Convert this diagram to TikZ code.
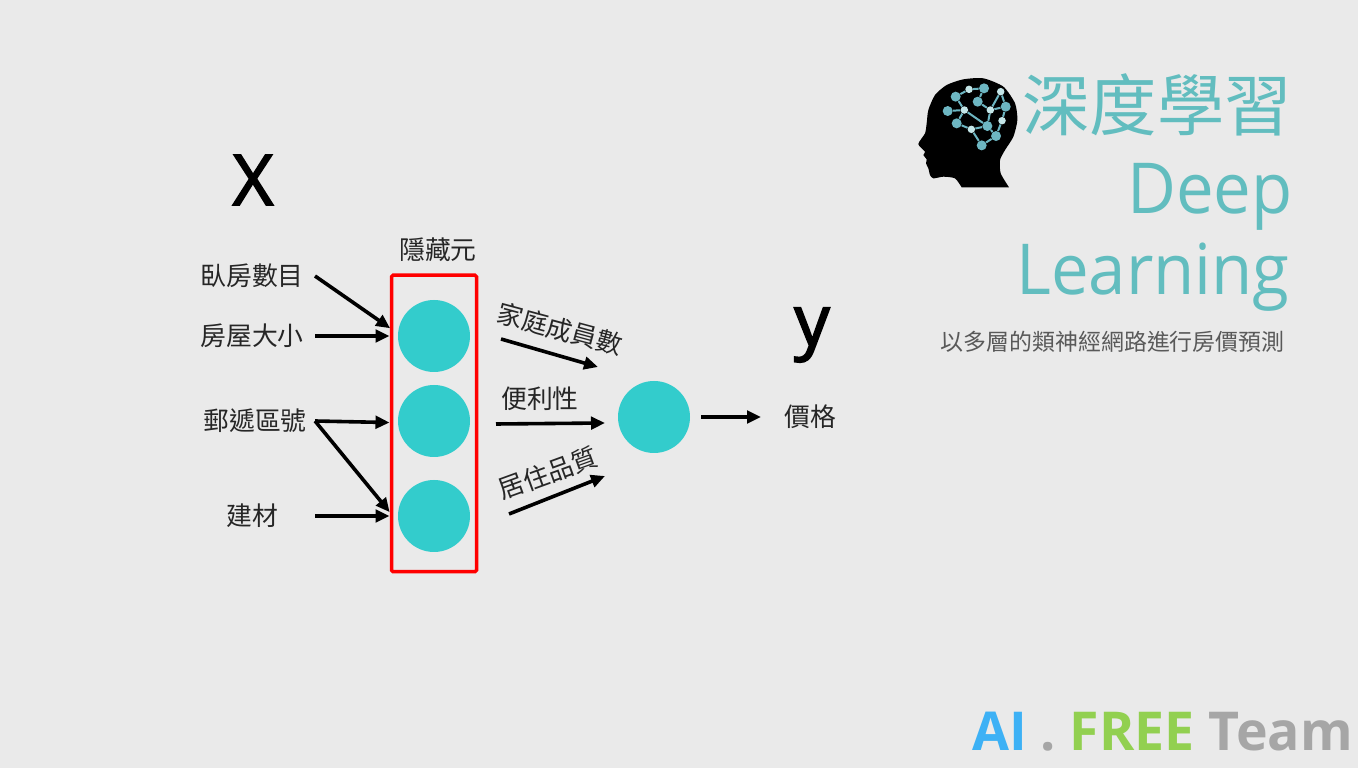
\documentclass[tikz,border=0pt]{standalone}
\usepackage{fontspec}
\setmainfont{Open Sans}
\newfontfamily\cjk{Noto Sans CJK TC}
\newfontfamily\varfont[FakeBold=2.5]{Open Sans}
\newfontfamily\titlefont[FakeStretch=0.955]{Open Sans}
\usetikzlibrary{arrows.meta, calc}
\definecolor{slidebg}{HTML}{EAEAEA}
\definecolor{neuron}{HTML}{33CCCC}
\definecolor{titleteal}{HTML}{62BDBF}
\definecolor{brainteal}{HTML}{6DB6C2}
\definecolor{brainlight}{HTML}{C4E6E8}
\definecolor{aiblue}{HTML}{3DB1F5}
\definecolor{freegreen}{HTML}{92D050}
\definecolor{teamgray}{HTML}{A6A6A6}

\begin{document}
\begin{tikzpicture}[
    x=0.2mm, y=-0.2mm,
    font=\fontsize{14.7}{16}\selectfont\cjk,
    feature/.style={anchor=east, align=center, inner sep=0pt, minimum width=25mm, minimum height=6mm, text=black!85},
    unit/.style={circle, fill=neuron, inner sep=0pt, minimum size=14.4mm, outer sep=1.7mm},
    cjktext/.style={inner sep=0pt, text=black!85},
    bigvar/.style={inner sep=0pt, font=\fontsize{40}{44}\selectfont\varfont},
    arr/.style={-{Triangle[length=2.8mm, width=2.5mm]}, line width=0.72mm, black},
    titletext/.style={anchor=base east, inner sep=0pt, text=titleteal, font=\fontsize{40}{44}\selectfont\titlefont},
    bigdot/.style={circle, fill=brainteal, inner sep=0pt, minimum size=2mm},
    smalldot/.style={circle, fill=brainlight, inner sep=0pt, minimum size=1.5mm},
    wire/.style={brainteal, line width=0.4mm}
]

\fill[slidebg] (0,0) rectangle (1358,768);
\useasboundingbox (0,0) rectangle (1358,768);

% --------------------------------------------------------------------------
% Input features
% --------------------------------------------------------------------------
\node[bigvar] (xvar) at (253,180) {X};
\node[feature] (bedroom) at (315,276) {臥房數目};
\node[feature] (house) at (315,336) {房屋大小};
\node[feature] (zipcode) at (315,421) {\hspace{1.2mm}郵遞區號};
\node[feature] (material) at (315,516) {建材};

% --------------------------------------------------------------------------
% Hidden units
% --------------------------------------------------------------------------
\node[unit] (hid1) at (434,336) {};
\node[unit] (hid2) at (434,421) {};
\node[unit] (hid3) at (434,516) {};
\node[draw=red, line width=0.7mm, rounded corners=0.3mm, inner sep=0pt, minimum width=17mm, minimum height=59.3mm] (hidbox) at (434,423.5) {};
\node[cjktext] (hidlabel) at (438,250) {隱藏元};

\draw[arr] (bedroom.east) -- (hid1.170);
\draw[arr] (house.east) -- (hid1.west);
\draw[arr] (zipcode.east) -- (hid2.182);
\draw[arr] (zipcode.east) -- (hid3.175);
\draw[arr] (material.east) -- (hid3.west);

% --------------------------------------------------------------------------
% Output
% --------------------------------------------------------------------------
\node[unit] (out) at (654,417) {};
\node[bigvar] (yvar) at (812,335) {y};
\node[cjktext, anchor=west, xshift=4.6mm] (price) at (761,417) {價格};
\coordinate (pricein) at (761,417);

\draw[arr] ($(hid1.east)+(22.5,3)$) -- ($(out.west)+(-11.5,-50)$);
\draw[arr] ($(hid2.east)+(17.5,3)$) -- ($(out.west)+(-4.5,6)$);
\draw[arr] ($(hid3.east)+(30.5,-2)$) -- ($(out.west)+(-4.5,59)$);
\draw[arr] ($(out.east)+(2.5,0)$) -- (pricein);

\node[cjktext, rotate=-15] (family) at (560,329) {家庭成員數};
\node[cjktext] (conv) at (540,399) {便利性};
\node[cjktext, rotate=20] (quality) at (548,473) {居住品質};

% --------------------------------------------------------------------------
% Title block
% --------------------------------------------------------------------------
\node[inner sep=0pt, anchor=east, text=titleteal, font=\fontsize{38.3}{42}\selectfont\cjk] (titlezh) at (1292,105) {深度學習};
\node[titletext] (titledeep) at (1293,214) {Deep};
\node[titletext] (titlelearn) at (1290,295) {Learning};
\node[inner sep=0pt, anchor=east, text=black!65, font=\fontsize{13.05}{15}\selectfont\cjk] (subtitle) at (1285,342) {以多層的類神經網路進行房價預測};

\node[anchor=base east, inner sep=0pt, font=\fontsize{30.5}{36}\selectfont\rmfamily\bfseries] (team) at (1353,751) {\textcolor{aiblue}{AI} \textcolor{teamgray}{.} \textcolor{freegreen}{FREE} \textcolor{teamgray}{Team}};

% Head with brain, coordinates in thirds of a pixel
\begin{scope}[shift={(910,70)}, x=0.0667mm, y=-0.0667mm]
    \fill[black] plot[smooth, tension=0.4] coordinates {(155,352) (135,325) (100,320) (70,325) (60,315) (55,295) (48,280) (50,268) (40,255) (45,245) (25,222) (45,190) (50,160) (55,120) (75,75) (110,45) (160,28) (220,25) (280,50) (315,100) (322,150) (310,200) (285,240) (270,270) (272,310) (297,352)} -- cycle;
    \foreach \name/\px/\py in {b1/137/80, b2/222/55, b3/203/95, b4/287/110, b5/232/168, b6/215/226, b7/140/160, b8/113/123, b9/258/198}
        \node[bigdot] (\name) at (\px,\py) {};
    \foreach \name/\px/\py in {s1/177/58, s2/272/65, s3/163/120, s4/241/120, s5/276/152, s6/184/178}
        \node[smalldot] (\name) at (\px,\py) {};
    \foreach \from/\to in {b1/s1, s1/b2, b2/b3, s2/s4, b1/s3, b8/s3, s3/b5, s3/b7, b7/s6, s6/b5, b5/s4, s4/b4, s2/b4, b4/s5, s5/b9, b5/b9, b9/b6, s6/b6, b3/s4}
        \draw[wire] (\from) -- (\to);
\end{scope}

\end{tikzpicture}
\end{document}
